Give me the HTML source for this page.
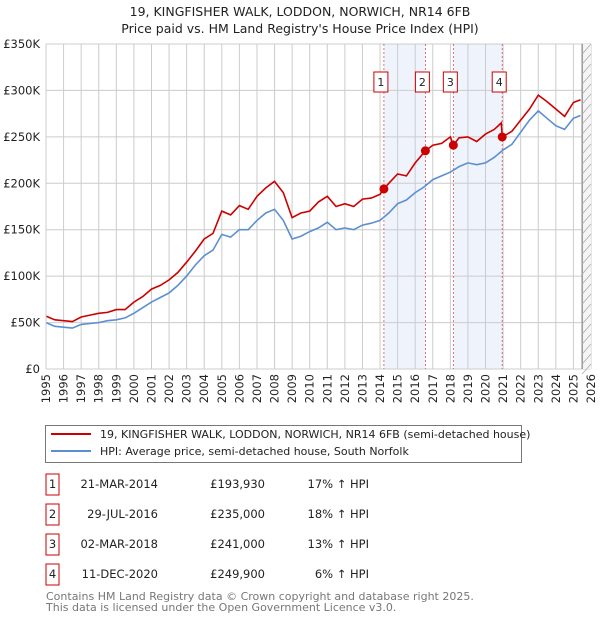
<!DOCTYPE html>
<html><head><meta charset="utf-8"><style>
body{margin:0;background:#fff;font-family:"DejaVu Sans","Liberation Sans",sans-serif;}
svg text{font-family:"DejaVu Sans","Liberation Sans",sans-serif;}
</style></head><body>
<svg id="c" width="600" height="620" xmlns="http://www.w3.org/2000/svg">
<text x="300" y="16" text-anchor="middle" font-size="12.5" fill="#222">19, KINGFISHER WALK, LODDON, NORWICH, NR14 6FB</text>
<text x="300" y="33" text-anchor="middle" font-size="12.5" fill="#222">Price paid vs. HM Land Registry's House Price Index (HPI)</text>
<g id="plot"></g>
<g>
<rect x="45.5" y="425.5" width="476" height="37" fill="#fff" stroke="#777"/>
<line x1="51" y1="434" x2="91" y2="434" stroke="#cc0000" stroke-width="2"/>
<text x="100" y="438" font-size="11" fill="#222">19, KINGFISHER WALK, LODDON, NORWICH, NR14 6FB (semi-detached house)</text>
<line x1="51" y1="451" x2="91" y2="451" stroke="#5b8fd0" stroke-width="2"/>
<text x="100" y="455" font-size="11" fill="#222">HPI: Average price, semi-detached house, South Norfolk</text>
</g>
<g id="tbl" font-size="11.5" fill="#222"></g>
<text x="46" y="600" font-size="11" fill="#777">Contains HM Land Registry data © Crown copyright and database right 2025.</text>
<text x="46" y="611" font-size="11" fill="#777">This data is licensed under the Open Government Licence v3.0.</text>
</svg>
<script>
const hpiYears=[1995,1995.5,1996,1996.5,1997,1997.5,1998,1998.5,1999,1999.5,2000,2000.5,2001,2001.5,2002,2002.5,2003,2003.5,2004,2004.5,2005,2005.5,2006,2006.5,2007,2007.5,2008,2008.5,2009,2009.5,2010,2010.5,2011,2011.5,2012,2012.5,2013,2013.5,2014,2014.5,2015,2015.5,2016,2016.5,2017,2017.5,2018,2018.5,2019,2019.5,2020,2020.5,2021,2021.5,2022,2022.5,2023,2023.5,2024,2024.5,2025,2025.4];
const hpiValues=[50,46,45,44,48,49,50,52,53,55,60,66,72,77,82,90,100,112,122,128,145,142,150,150,160,168,172,160,140,143,148,152,158,150,152,150,155,157,160,168,178,182,190,196,204,208,212,218,222,220,222,228,236,242,255,268,278,270,262,258,270,273];
const redYears=[1995,1995.5,1996,1996.5,1997,1997.5,1998,1998.5,1999,1999.5,2000,2000.5,2001,2001.5,2002,2002.5,2003,2003.5,2004,2004.5,2005,2005.5,2006,2006.5,2007,2007.5,2008,2008.5,2009,2009.5,2010,2010.5,2011,2011.5,2012,2012.5,2013,2013.5,2014,2014.22,2014.5,2015,2015.5,2016,2016.58,2017,2017.5,2018,2018.17,2018.5,2019,2019.5,2020,2020.5,2020.9,2020.95,2021.5,2022,2022.5,2023,2023.5,2024,2024.5,2025,2025.4];
const redValues=[57,53,52,51,56,58,60,61,64,64,72,78,86,90,96,104,115,127,140,146,170,166,176,172,186,195,202,190,163,168,170,180,186,175,178,175,183,184,188,193.93,200,210,208,222,235,241,243,250,241,249,250,245,253,258,265,249.9,256,268,280,295,288,280,272,287,290];
const saleYears=[2014.22,2016.58,2018.17,2020.95];
const saleValues=[193.93,235,241,249.9];
const saleLabels=["1","2","3","4"];
const saleDates=["21-MAR-2014","29-JUL-2016","02-MAR-2018","11-DEC-2020"];
const salePrices=["£193,930","£235,000","£241,000","£249,900"];
const saleHpi=["17% ↑ HPI","18% ↑ HPI","13% ↑ HPI","6% ↑ HPI"];
const yTicks=[0,50,100,150,200,250,300,350];
const yTickLabels=["£0","£50K","£100K","£150K","£200K","£250K","£300K","£350K"];
const xTicks=[];for(let y=1995;y<=2026;y++)xTicks.push(y);

const NS="http://www.w3.org/2000/svg";
const L=46,R=591,T=44,B=369;
const X=y=>L+(y-1995)/(2026-1995)*(R-L);
const Y=v=>B-v/350*(B-T);
const plot=document.getElementById('plot');
function mk(tag,at,parent){const e=document.createElementNS(NS,tag);for(const k in at)e.setAttribute(k,at[k]);(parent||plot).appendChild(e);return e;}
for(let i=0;i<4;i+=2){const r=mk('rect',{x:X(saleYears[i]),y:T,width:X(saleYears[i+1])-X(saleYears[i]),height:B-T,fill:'#eef3fc'});

}
yTicks.forEach((v,i)=>{const g=mk('line',{x1:L,x2:R,y1:Y(v),y2:Y(v),stroke:'#ccc'});


const t=mk('text',{x:L-6,y:Y(v)+4,'text-anchor':'end','font-size':'11.5',fill:'#222'});t.textContent=yTickLabels[i];

});
xTicks.forEach(y=>{const g=mk('line',{x1:X(y),x2:X(y),y1:T,y2:B,stroke:'#ccc'});


const t=mk('text',{x:0,y:0,'text-anchor':'end','font-size':'11.5',fill:'#222',transform:`translate(${X(y)+4},${B+5}) rotate(-90)`});t.textContent=y;

});
const hx=X(2025.5);
const hb=mk('rect',{x:hx,y:T,width:R-hx,height:B-T,fill:'#f4f4f4'});


mk('line',{x1:hx,x2:hx,y1:T,y2:B,stroke:'#999','stroke-width':1.5});
for(let yy=T;yy<B;yy+=10)mk('line',{x1:hx,y1:yy+10,x2:R,y2:yy,stroke:'#aaa','stroke-width':0.8});
saleYears.forEach((s,i)=>{const l=mk('line',{x1:X(s),x2:X(s),y1:T,y2:B,stroke:'#e05050','stroke-dasharray':'2,2','stroke-width':0.8});


const r=mk('rect',{x:X(s)-10,y:72,width:14,height:20,fill:'#fff',stroke:'#cc0000'});


const t=mk('text',{x:X(s)-3,y:86,'text-anchor':'middle','font-size':'11',fill:'#222'});t.textContent=saleLabels[i];});
function path(xs,vs,col,name){const d=xs.map((y,i)=>(i?'L':'M')+X(y).toFixed(1)+','+Y(vs[i]).toFixed(1)).join('');
const p=mk('path',{d:d,fill:'none',stroke:col,'stroke-width':1.6});

}
path(hpiYears,hpiValues,'#5b8fd0','hpi-line');
path(redYears,redValues,'#cc0000','property-price-line');
saleYears.forEach((s,i)=>{const c=mk('circle',{cx:X(s),cy:Y(saleValues[i]),r:4.5,fill:'#cc0000'});

});
mk('line',{x1:L,x2:L,y1:T,y2:B,stroke:'#ccc'});
const tbl=document.getElementById('tbl');
saleLabels.forEach((lab,i)=>{const cy=483+i*30;
const r=mk('rect',{x:46,y:cy-9,width:13,height:21,fill:'#fff',stroke:'#cc0000'},tbl);


const a=mk('text',{x:52.5,y:cy+5,'text-anchor':'middle'},tbl);a.textContent=lab;
const b=mk('text',{x:158,y:cy+5,'text-anchor':'end'},tbl);b.textContent=saleDates[i];


const c=mk('text',{x:265,y:cy+5,'text-anchor':'end'},tbl);c.textContent=salePrices[i];


const d=mk('text',{x:369,y:cy+5,'text-anchor':'end'},tbl);d.textContent=saleHpi[i];

});
</script>
</body></html>
